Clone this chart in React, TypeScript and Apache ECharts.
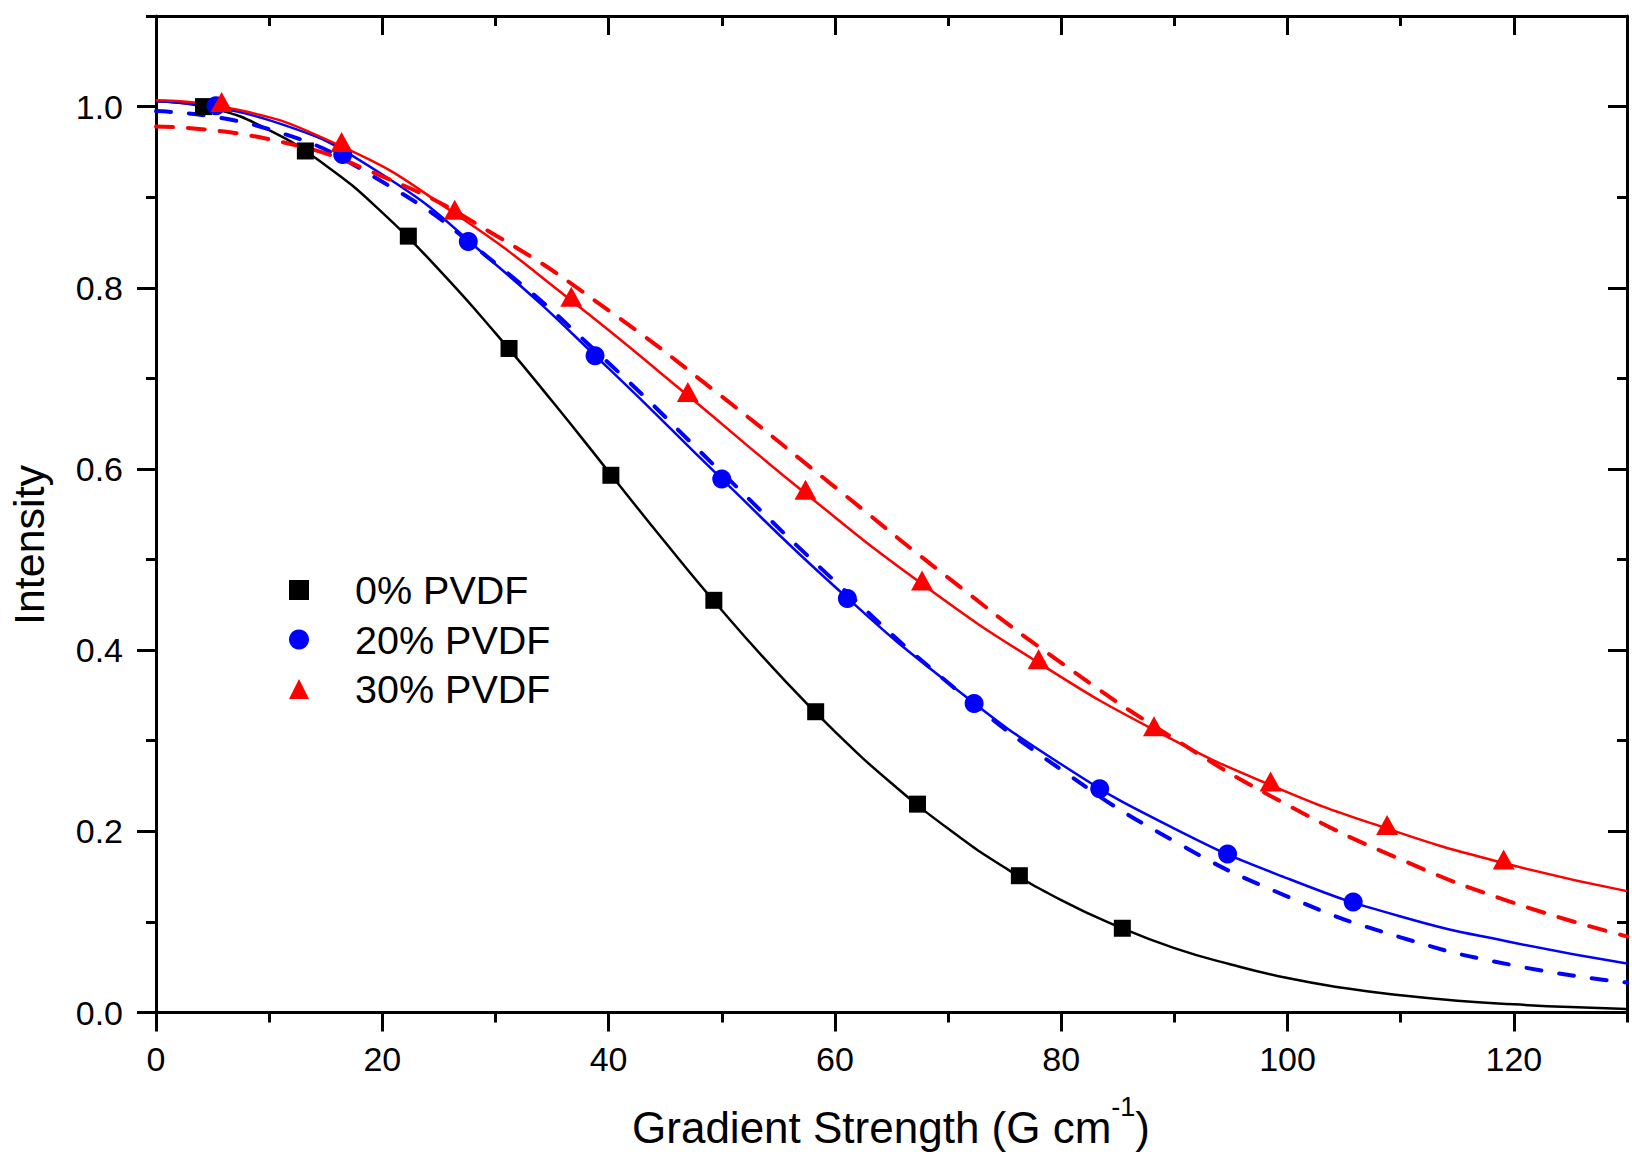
import React, { useEffect, useRef } from "react";
import * as echarts from "echarts";

// Measured data points
const BLACK_X = [4.2, 13.2, 22.3, 31.2, 40.2, 49.3, 58.3, 67.3, 76.3, 85.4];
const BLACK_Y = [1.0, 0.951, 0.857, 0.733, 0.593, 0.455, 0.332, 0.23, 0.151, 0.093];
const BLUE_X = [5.3, 16.5, 27.6, 38.8, 50.0, 61.1, 72.3, 83.4, 94.7, 105.8];
const BLUE_Y = [1.001, 0.947, 0.851, 0.725, 0.589, 0.457, 0.341, 0.247, 0.175, 0.122];
const RED_X = [5.8, 16.4, 26.4, 36.7, 47.0, 57.4, 67.7, 78.0, 88.2, 98.5, 108.8, 119.1];
const RED_Y = [1.005, 0.961, 0.886, 0.79, 0.685, 0.577, 0.477, 0.39, 0.316, 0.255, 0.207, 0.169];

// Fit curves
const FIT_X5 = [0, 5, 10, 15, 20, 25, 30, 35, 40, 45, 50, 55, 60, 65, 70, 75, 80, 85, 90, 95, 100, 105, 110, 115, 120, 125, 130];
const BLACK_FIT_Y = [1.006, 0.998, 0.974, 0.935, 0.883, 0.82, 0.75, 0.675, 0.597, 0.519, 0.444, 0.374, 0.31, 0.253, 0.203, 0.16, 0.124, 0.095, 0.071, 0.053, 0.038, 0.027, 0.019, 0.013, 0.009, 0.006, 0.004];
const FIT_X10 = [0, 10, 20, 30, 40, 50, 60, 70, 80, 90, 100, 110, 120, 130];
const BLUE_FIT_Y = [1.006, 0.985, 0.925, 0.826, 0.711, 0.589, 0.47, 0.364, 0.274, 0.203, 0.148, 0.106, 0.077, 0.054];
const BLUE_DASH_Y = [0.995, 0.975, 0.917, 0.827, 0.717, 0.596, 0.476, 0.364, 0.268, 0.189, 0.128, 0.083, 0.052, 0.033];
const RED_FIT_X = [0, 5.8, 16.4, 26.4, 36.7, 47.0, 57.4, 67.7, 78.0, 88.2, 98.5, 108.8, 119.1, 130];
const RED_FIT_Y = [1.007, 1.0, 0.956, 0.882, 0.786, 0.681, 0.573, 0.473, 0.386, 0.312, 0.251, 0.203, 0.165, 0.134];
const RED_DASH_Y = [0.978, 0.964, 0.923, 0.858, 0.775, 0.68, 0.58, 0.48, 0.386, 0.302, 0.229, 0.169, 0.121, 0.084];

const X_TICKS = [0, 20, 40, 60, 80, 100, 120];
const Y_TICKS = [0, 0.2, 0.4, 0.6, 0.8, 1.0];
const SERIES_NAMES = ["0% PVDF", "20% PVDF", "30% PVDF"];

const FONT = "'Liberation Sans', Arial, sans-serif";

const zip = (xs: number[], ys: number[]) => xs.map((x, i) => [x, ys[i]]);

export default function App() {
  const ref = useRef<HTMLDivElement>(null);

  useEffect(() => {
    if (!ref.current) return;
    const chart = echarts.init(ref.current, null, { renderer: "svg" });
    const lineStyle = { color: "#000", width: 3 };
    const xBase = { type: "value", min: 0, max: 130, interval: 10, splitLine: { show: false } };
    const yBase = { type: "value", min: 0, max: 1.1, interval: 0.1, splitLine: { show: false } };

    const option: any = {
      animation: false,
      backgroundColor: "#fff",
      grid: { left: 156, right: 5, top: 16, bottom: 149.5, containLabel: false },
      xAxis: [
        {
          ...xBase,
          position: "bottom",
          axisLine: { show: true, onZero: false, lineStyle },
          axisTick: { show: true, length: 10, lineStyle },
          axisLabel: { customValues: X_TICKS, fontSize: 34, color: "#000", margin: 29, fontFamily: FONT },
        },
        {
          ...xBase,
          position: "bottom",
          axisLine: { show: false, onZero: false },
          axisTick: { show: true, customValues: X_TICKS, length: 19, lineStyle },
          axisLabel: { show: false },
        },
        {
          ...xBase,
          position: "top",
          axisLine: { show: true, onZero: false, lineStyle },
          axisTick: { show: true, inside: true, length: 10, lineStyle },
          axisLabel: { show: false },
        },
        {
          ...xBase,
          position: "top",
          axisLine: { show: false, onZero: false },
          axisTick: { show: true, inside: true, customValues: X_TICKS, length: 19, lineStyle },
          axisLabel: { show: false },
        },
      ],
      yAxis: [
        {
          ...yBase,
          position: "left",
          axisLine: { show: true, onZero: false, lineStyle },
          axisTick: { show: true, length: 10, lineStyle },
          axisLabel: {
            customValues: Y_TICKS,
            fontSize: 34,
            color: "#000",
            margin: 33,
            fontFamily: FONT,
            formatter: (v: number) => v.toFixed(1),
          },
        },
        {
          ...yBase,
          position: "left",
          axisLine: { show: false, onZero: false },
          axisTick: { show: true, customValues: Y_TICKS, length: 19, lineStyle },
          axisLabel: { show: false },
        },
        {
          ...yBase,
          position: "right",
          axisLine: { show: true, onZero: false, lineStyle },
          axisTick: { show: true, inside: true, length: 10, lineStyle },
          axisLabel: { show: false },
        },
        {
          ...yBase,
          position: "right",
          axisLine: { show: false, onZero: false },
          axisTick: { show: true, inside: true, customValues: Y_TICKS, length: 19, lineStyle },
          axisLabel: { show: false },
        },
      ],
      legend: {
        data: SERIES_NAMES,
        orient: "vertical",
        left: 289,
        top: 570,
        padding: 0,
        itemWidth: 20,
        itemHeight: 20,
        itemGap: 9.5,
        textStyle: {
          fontSize: 39.5,
          color: "#000",
          fontFamily: FONT,
          lineHeight: 39,
          padding: [0, 0, 0, 41],
        },
      },
      series: [
        {
          type: "line",
          data: zip(FIT_X5, BLACK_FIT_Y),
          smooth: true,
          showSymbol: false,
          symbol: "none",
          lineStyle: { color: "#000", width: 2.5 },
          z: 2,
        },
        {
          type: "line",
          data: zip(FIT_X10, BLUE_FIT_Y),
          smooth: true,
          showSymbol: false,
          symbol: "none",
          lineStyle: { color: "#0000ff", width: 2.5 },
          z: 2,
        },
        {
          type: "line",
          data: zip(FIT_X10, BLUE_DASH_Y),
          smooth: true,
          showSymbol: false,
          symbol: "none",
          lineStyle: { color: "#0000ff", width: 4, type: [15, 18], cap: "round" },
          z: 2,
        },
        {
          type: "line",
          data: zip(RED_FIT_X, RED_FIT_Y),
          smooth: true,
          showSymbol: false,
          symbol: "none",
          lineStyle: { color: "#ff0000", width: 2.5 },
          z: 2,
        },
        {
          type: "line",
          data: zip(FIT_X10, RED_DASH_Y),
          smooth: true,
          showSymbol: false,
          symbol: "none",
          lineStyle: { color: "#ff0000", width: 4, type: [17, 15], cap: "round" },
          z: 2,
        },
        {
          name: SERIES_NAMES[0],
          type: "scatter",
          data: zip(BLACK_X, BLACK_Y),
          symbol: "rect",
          symbolSize: 17,
          itemStyle: { color: "#000", opacity: 1 },
          z: 5,
        },
        {
          name: SERIES_NAMES[1],
          type: "scatter",
          data: zip(BLUE_X, BLUE_Y),
          symbol: "circle",
          symbolSize: 19,
          itemStyle: { color: "#0000ff", opacity: 1 },
          z: 5,
        },
        {
          name: SERIES_NAMES[2],
          type: "scatter",
          data: zip(RED_X, RED_Y),
          symbol: "triangle",
          symbolSize: [22, 20],
          itemStyle: { color: "#ff0000", opacity: 1 },
          z: 5,
        },
      ],
      graphic: [
        {
          type: "text",
          x: 29,
          y: 545,
          rotation: Math.PI / 2,
          style: {
            text: "Intensity",
            fontSize: 43,
            fontFamily: FONT,
            fill: "#000",
            align: "center",
            verticalAlign: "middle",
          },
        },
        {
          type: "text",
          x: 891,
          y: 1127,
          style: {
            text: "{a|Gradient Strength (G cm}{s|-1}{a|)}",
            fontFamily: FONT,
            fill: "#000",
            align: "center",
            verticalAlign: "middle",
            rich: {
              a: { fontSize: 44, lineHeight: 68, fontFamily: FONT, fill: "#000" },
              s: { fontSize: 27, lineHeight: 27, verticalAlign: "top", fontFamily: FONT, fill: "#000" },
            },
          },
        },
      ],
    };

    chart.setOption(option);
    return () => chart.dispose();
  }, []);

  return (
    <div
      ref={ref}
      style={{ position: "fixed", left: 0, top: 0, width: 1632, height: 1162, background: "#fff" }}
    />
  );
}
